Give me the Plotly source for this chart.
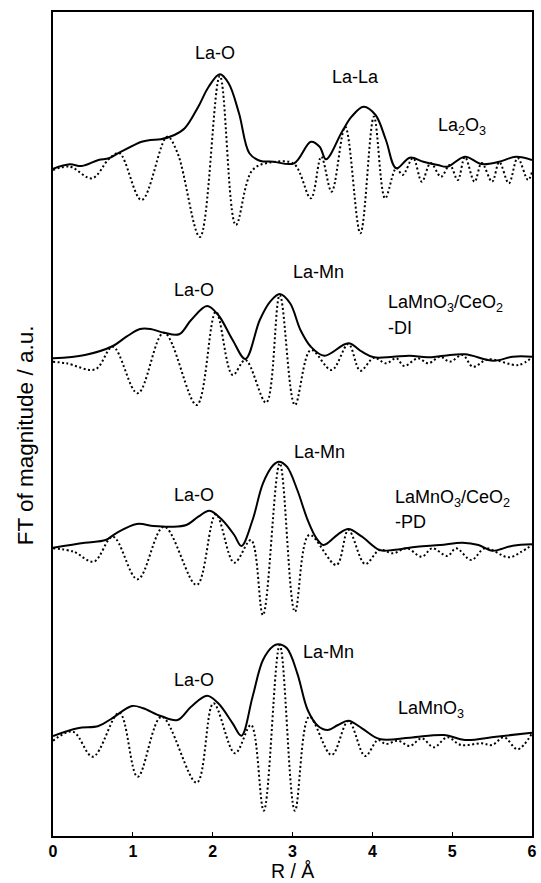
import plotly.graph_objects as go

# ---- data (R in Å, intensities in arbitrary units relative to each baseline) ----
offsets = {"La2O3": 668, "DI": 478, "PD": 288, "LaMnO3": 100}

r_mag_la2o3 = [0,0.21,0.36,0.57,0.70,0.83,1.11,1.22,1.35,1.52,1.65,1.82,1.95,2.09,2.20,2.33,2.46,2.59,2.76,3.02,3.23,3.34,3.42,3.62,3.74,3.89,4.04,4.17,4.30,4.47,4.64,4.82,4.94,5.16,5.37,5.59,5.80,6.0]
mag_la2o3 = [-0.7,3.7,2,8,9.7,15.3,26.3,28,28.7,33,39.7,61.3,81.3,93.7,84.7,54.7,14.7,7.3,6.3,4.7,26.3,21.3,8.7,36.3,51.3,61.3,53,28,-0.3,10.3,6.3,3,1.3,11.3,4,6.3,11.3,8]
r_im_la2o3 = [0,0.21,0.49,0.70,0.83,1.11,1.43,1.56,1.84,2.09,2.29,2.50,2.76,3.02,3.23,3.36,3.49,3.66,3.85,4.02,4.16,4.30,4.38,4.51,4.62,4.73,4.86,4.97,5.07,5.16,5.28,5.37,5.5,5.59,5.71,5.82,5.95,6.0]
im_la2o3 = [-2,1.3,-10.3,9,15,-32,31.3,15,-69,92,-57,-2,6,4,-30.3,11.3,-23.7,41.3,-65.3,51.3,-30.3,0,-7,10,-13.7,5,-8.7,3,-12,11,-13.7,5,-13.7,6,-15.3,10,-12,-4]

r_mag_di = [0,0.40,0.75,0.92,1.09,1.22,1.39,1.58,1.73,1.93,2.07,2.25,2.41,2.59,2.72,2.84,2.97,3.10,3.23,3.40,3.70,3.87,4.02,4.26,4.47,4.69,4.90,5.16,5.52,5.76,6.0]
mag_di = [-0.3,3,12,21.3,29,29,25.3,23.7,38,52,43,18,-1,38,56.3,64,54.7,28,11.3,2.3,14.7,6.3,0.7,1.3,2.3,0.7,2.3,3.7,-2.7,1.3,1.3]
r_im_di = [0,0.17,0.53,0.75,1.06,1.39,1.80,2.04,2.25,2.41,2.67,2.84,3.03,3.23,3.49,3.70,3.85,4.02,4.17,4.30,4.40,4.57,4.70,4.85,4.97,5.13,5.26,5.45,5.83,6.0]
im_di = [-3.7,-5.3,-11.3,11.3,-35.3,25.3,-47,46.3,-17,-2,-44.7,63,-47,8,-12,14,-12.7,0.3,-5.3,-0.3,-8,-0.3,-5.3,1.3,-3.7,3,-8.7,-1.3,-7,0.7]

r_mag_pd = [0,0.4,0.66,0.79,1.05,1.26,1.48,1.67,1.82,1.96,2.12,2.27,2.36,2.50,2.63,2.76,2.83,2.93,3.06,3.19,3.30,3.39,3.57,3.70,3.87,4.09,4.26,4.56,4.85,5.13,5.33,5.50,5.76,6.0]
mag_pd = [0.3,5.3,8,14.7,24,22,21.3,23,31.3,37.3,28,13,2,28,64.7,83,86.3,81.3,58,28,9.7,3,13.7,19,11.3,-2,-2,1.3,3,5.3,3,-2.7,2.3,3.7]
r_im_pd = [0,0.26,0.51,0.75,1.06,1.39,1.80,2.04,2.27,2.48,2.63,2.84,3.03,3.21,3.55,3.70,3.91,4.09,4.26,4.43,4.62,4.75,4.94,5.05,5.24,5.41,5.71,5.87,6.0]
im_pd = [-0.3,-3.7,-13.7,11.3,-31.3,21.3,-37,33.7,-14.7,8,-67,84.7,-63.7,13,-17,18,-16,-2,-5.3,-0.3,-8.7,-0.3,-8,-0.3,-12,-0.3,-9.3,-3.7,3]

r_mag_lmo = [0,0.31,0.57,0.74,0.99,1.13,1.35,1.56,1.73,1.93,2.07,2.25,2.36,2.50,2.63,2.76,2.82,2.93,3.06,3.19,3.32,3.44,3.57,3.70,3.87,4.09,4.47,4.90,5.16,5.55,6.0]
mag_lmo = [0,7.7,10,17.7,30,27.7,20,16,29.3,40.3,32.7,12.7,0.3,39.3,76,90,91.7,87.7,62.7,26,10,6,11,15.3,7.7,-3,-1.7,1,-4,-0.7,3.3]
r_im_lmo = [0,0.25,0.50,0.83,1.06,1.36,1.80,2.01,2.28,2.48,2.64,2.84,3.03,3.21,3.49,3.70,3.91,4.07,4.17,4.32,4.47,4.62,4.77,4.94,5.11,5.37,5.50,5.65,5.82,6.0]
im_lmo = [-4.7,4.3,-20.7,23.3,-40.7,19.3,-46.7,32.7,-17.3,11,-74.7,91,-74.7,19.3,-19,15,-20,-4,-8,-4.7,-10,-2.3,-11.3,-1.3,-9,-7.3,-9,-1.3,-13.3,2.7]

xticks = [0, 1, 2, 3, 4, 5, 6]

series = [
    ("La2O3", r_mag_la2o3, mag_la2o3, r_im_la2o3, im_la2o3),
    ("DI", r_mag_di, mag_di, r_im_di, im_di),
    ("PD", r_mag_pd, mag_pd, r_im_pd, im_pd),
    ("LaMnO3", r_mag_lmo, mag_lmo, r_im_lmo, im_lmo),
]

fig = go.Figure()
for name, rm, m, ri, im in series:
    off = offsets[name]
    fig.add_trace(go.Scatter(x=ri, y=[v + off for v in im], mode="lines",
                             line=dict(color="black", width=2, dash="2px,2.5px", shape="spline", smoothing=1.0),
                             showlegend=False, hoverinfo="skip"))
    fig.add_trace(go.Scatter(x=rm, y=[v + off for v in m], mode="lines",
                             line=dict(color="black", width=2, shape="spline", smoothing=1.0),
                             showlegend=False, hoverinfo="skip"))

FONT = "Liberation Sans, Arial, sans-serif"
labels = [
    ("La-O", 2.03, 783, "center"),
    ("La-La", 3.79, 759, "center"),
    ("La<sub>2</sub>O<sub>3</sub>", 5.12, 710, "center"),
    ("La-O", 1.77, 546, "center"),
    ("La-Mn", 3.32, 564, "center"),
    ("LaMnO<sub>3</sub>/CeO<sub>2</sub>", 4.17, 533, "left"),
    ("-DI", 4.17, 508, "left"),
    ("La-O", 1.77, 341, "center"),
    ("La-Mn", 3.34, 384, "center"),
    ("LaMnO<sub>3</sub>/CeO<sub>2</sub>", 4.26, 338, "left"),
    ("-PD", 4.26, 314, "left"),
    ("La-O", 1.77, 156, "center"),
    ("La-Mn", 3.45, 184, "center"),
    ("LaMnO<sub>3</sub>", 4.73, 127, "center"),
]
for txt, x, y, anc in labels:
    fig.add_annotation(x=x, y=y, xref="x", yref="y", text=txt, showarrow=False,
                       xanchor=anc, yanchor="middle", font=dict(family=FONT, size=18, color="black"))

fig.add_annotation(x=-28/484, y=(836-435)/824, xref="paper", yref="paper", text="FT of magnitude / a.u.",
                   textangle=-90, showarrow=False, xanchor="center", yanchor="middle",
                   font=dict(family=FONT, size=22.5, color="black"))
fig.add_annotation(x=0.5, y=(836-871)/824, xref="paper", yref="paper", text="R / Å",
                   showarrow=False, xanchor="center", yanchor="middle",
                   font=dict(family=FONT, size=19.5, color="black"))

fig.update_xaxes(range=[0, 6], tickvals=xticks, ticktext=[str(t) for t in xticks],
                 ticks="inside", ticklen=4, tickwidth=1.2, tickcolor="black",
                 showline=True, linecolor="black", linewidth=1.5, mirror=True,
                 showgrid=False, zeroline=False,
                 tickfont=dict(family=FONT, size=16, color="black", weight="bold"))
fig.update_yaxes(range=[0, 824], showticklabels=False, ticks="",
                 showline=True, linecolor="black", linewidth=1.5, mirror=True,
                 showgrid=False, zeroline=False)
fig.update_layout(width=541, height=883, margin=dict(l=53, r=4, t=12, b=47),
                  plot_bgcolor="white", paper_bgcolor="white")
fig.write_html("out.html")
